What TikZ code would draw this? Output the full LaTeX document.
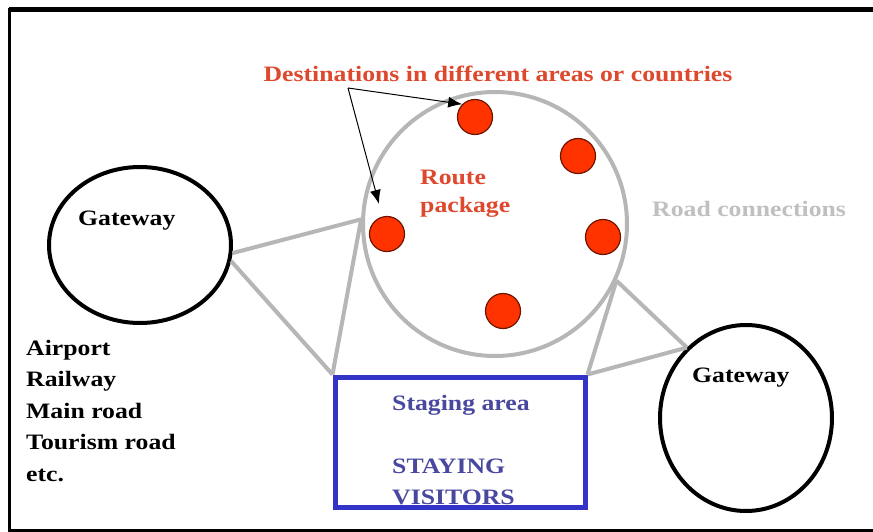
\documentclass[tikz,border=0pt]{standalone}
\usepackage{fontspec}
\setmainfont[FakeStretch=1.17]{Liberation Serif}
\usetikzlibrary{shapes,arrows.meta,positioning}
\definecolor{destred}{RGB}{222,72,44}
\definecolor{dotred}{RGB}{255,51,0}
\definecolor{dotrim}{RGB}{110,20,0}
\definecolor{roadgray}{RGB}{182,182,182}
\definecolor{roadtext}{RGB}{192,192,192}
\definecolor{stageblue}{RGB}{51,51,200}
\definecolor{stagetext}{RGB}{72,72,160}
\tikzstyle{words}=[font=\fontsize{22}{31.5}\selectfont\bfseries,inner sep=0pt,align=left]
\tikzstyle{gateway}=[ellipse,draw=black,line width=4pt,inner sep=0pt]
\tikzstyle{dest}=[circle,fill=dotred,draw=dotrim,line width=1.2pt,minimum size=35pt,inner sep=0pt]
\tikzstyle{road}=[draw=roadgray,line width=4pt]
\tikzstyle{pointer}=[-{Latex[length=14pt,width=11pt]},line width=1pt]

\begin{document}
\begin{tikzpicture}[x=1pt,y=-1pt]
    \useasboundingbox (0,0) rectangle (873,532);
    \fill[white] (0,0) rectangle (873,532);

    % outer frame, open on the right
    \draw[line width=5pt] (9,10) -- (880,10);
    \draw[line width=3pt] (9,8) -- (9,530);
    \draw[line width=3pt] (8,530) -- (880,530);

    \node[gateway,minimum width=182pt,minimum height=156pt] (gwL) at (140,245) {};
    \node[gateway,minimum width=172pt,minimum height=186pt] (gwR) at (746,418) {};
    \node[circle,draw=roadgray,line width=4pt,minimum size=264pt,inner sep=0pt] (route) at (495,224) {};
    \node[rectangle,draw=stageblue,line width=5pt,minimum width=250pt,minimum height=130pt,inner sep=0pt] (stage) at (460,442) {};

    % road connections
    \draw[road] (gwL.-5) -- (route.178);
    \draw[road] (gwL.-10) -- (stage.north west);
    \draw[road] (stage.north west) -- (route.178);
    \draw[road] (stage.north east) -- (route.-25);
    \draw[road] (route.-25) -- (gwR.130);
    \draw[road] (stage.north east) -- (gwR.130);

    \node[dest] (d1) at (475,117) {};
    \node[dest] (d2) at (578,156) {};
    \node[dest] (d3) at (603,237) {};
    \node[dest] (d4) at (387,234) {};
    \node[dest] (d5) at (503,311) {};

    \node[words,text=destred,anchor=base] (dest) at (498,82) {Destinations in different areas or countries};
    \coordinate (fork) at (348,88);
    \draw[pointer] (fork) -- (d1.135);
    \draw[pointer,shorten >=13pt] (fork) -- (d4);

    \node[words,text=destred,anchor=north west] (pkg) at (420,170) {Route\\[-3.5pt]package};
    \node[words,text=roadtext,anchor=base west] (roads) at (652,216) {Road connections};
    \node[words,anchor=base west] (gwLtext) at (78,225) {Gateway};
    \node[words,anchor=base west] (gwRtext) at (692,382) {Gateway};
    \node[words,anchor=north west] (access) at (26,340) {Airport\\Railway\\Main road\\Tourism road\\etc.};
    \node[words,text=stagetext,anchor=north west] (stagetext) at (392,395) {Staging area\\ \\STAYING\\VISITORS};
\end{tikzpicture}
\end{document}
